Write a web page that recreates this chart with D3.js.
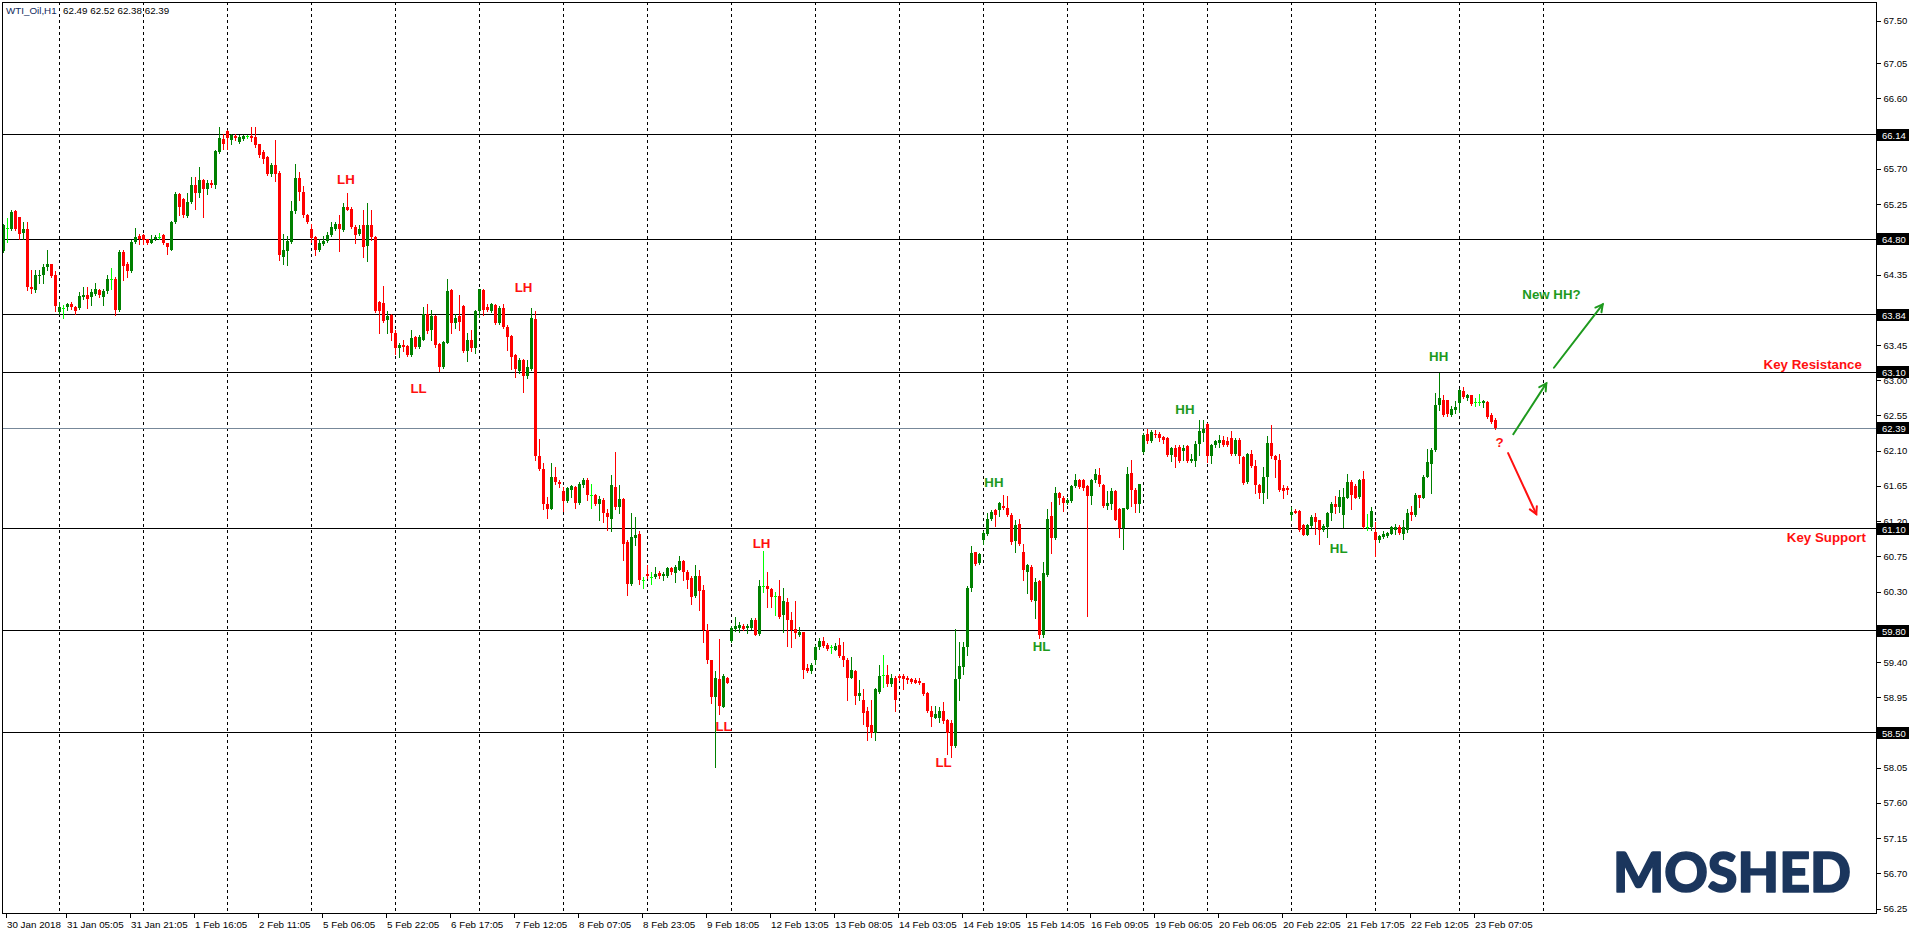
<!DOCTYPE html>
<html><head><meta charset="utf-8">
<script src="https://cdn.jsdelivr.net/npm/d3@7"></script>
<style>body{margin:0;background:#fff;overflow:hidden}svg{display:block}</style>
</head><body>
<svg id="chart" width="1916" height="934"></svg>
<script>
// ---------- DATA (WTI_Oil, H1) ----------
const opens = [
64.65,64.94,64.93,65.16,65.08,64.88,64.93,64.19,64.15,64.33,
64.34,64.45,64.48,64.34,63.87,63.92,63.93,63.97,63.94,63.92,
64.06,64.09,64.06,64.10,64.15,64.07,64.14,64.29,64.30,63.90,
64.64,64.49,64.39,64.77,64.84,64.85,64.80,64.76,64.80,64.83,
64.85,64.76,64.67,65.02,65.38,65.32,65.10,65.28,65.49,65.39,
65.56,65.44,65.52,65.50,65.92,66.08,66.19,66.07,66.12,66.05,
66.08,66.12,66.12,66.11,66.02,65.92,65.85,65.63,65.75,65.65,
64.58,64.65,64.77,65.16,65.59,65.41,65.11,64.93,64.83,64.66,
64.74,64.78,64.85,64.93,65.00,64.92,65.22,65.19,64.96,64.87,
64.98,64.72,64.98,64.83,64.00,63.99,63.77,63.84,63.60,63.41,
63.45,63.44,63.32,63.55,63.42,63.52,63.85,63.64,63.82,63.46,
63.17,63.48,64.15,63.73,63.82,63.95,63.38,63.51,63.41,63.89,
64.15,63.94,63.89,63.96,63.73,63.92,63.68,63.56,63.32,63.12,
63.26,63.05,63.14,63.78,62.03,61.87,61.42,61.36,61.77,61.70,
61.59,61.46,61.60,61.64,61.43,61.66,61.73,61.53,61.53,61.42,
61.47,61.31,61.23,61.64,61.38,61.48,60.94,60.40,60.98,61.04,
60.45,60.52,60.49,60.49,60.54,60.50,60.50,60.60,60.54,60.58,
60.69,60.55,60.48,60.24,60.50,60.32,59.81,59.42,58.95,59.18,
58.83,59.20,59.67,59.82,59.84,59.86,59.84,59.83,59.94,59.76,
60.37,60.37,60.33,60.25,60.24,60.00,60.17,59.94,59.82,59.74,
59.78,59.32,59.29,59.42,59.59,59.67,59.62,59.59,59.56,59.62,
59.48,59.43,59.20,59.29,58.97,58.92,58.78,58.59,58.50,59.02,
59.23,59.23,59.12,59.19,59.22,59.22,59.20,59.18,59.17,59.16,
59.13,59.01,58.78,58.69,58.69,58.78,58.66,58.62,58.33,59.18,
59.34,59.59,60.35,60.80,60.66,60.96,61.04,61.23,61.34,61.34,
61.40,61.37,61.28,60.95,61.16,60.80,60.55,60.62,60.18,60.44,
59.74,60.51,61.26,60.98,61.56,61.49,61.43,61.46,61.65,61.72,
61.72,61.65,61.52,61.73,61.79,61.66,61.39,61.42,61.59,61.36,
61.11,61.36,61.81,61.60,61.42,62.09,62.31,62.23,62.32,62.31,
62.28,62.26,62.04,62.13,62.15,62.10,62.16,61.97,61.97,62.19,
62.33,62.44,62.03,62.17,62.20,62.24,62.23,62.26,62.06,62.24,
62.02,61.70,62.06,61.90,61.66,61.56,61.77,62.20,62.03,61.98,
61.63,61.62,61.28,61.33,61.33,61.15,61.02,61.14,61.25,61.21,
61.09,61.12,61.30,61.42,61.38,61.28,61.50,61.70,61.65,61.51,
61.74,61.13,61.12,61.06,60.96,61.00,61.01,61.04,61.09,61.12,
61.03,61.09,61.32,61.28,61.53,61.50,61.77,61.93,62.11,62.68,
62.75,62.75,62.55,62.62,62.71,62.86,62.77,62.81,62.72,62.72,
62.71,62.72,62.55,62.49];
const highs = [
65.00,65.07,65.17,65.17,65.09,65.02,65.02,64.41,64.41,64.41,
64.49,64.66,64.49,64.39,64.00,63.96,63.99,64.00,63.95,64.13,
64.19,64.19,64.17,64.24,64.17,64.17,64.34,64.43,64.32,64.66,
64.66,64.51,64.79,64.94,64.87,64.87,64.81,64.85,64.85,64.88,
64.87,64.76,65.04,65.41,65.39,65.33,65.39,65.60,65.60,65.73,
65.57,65.56,65.56,65.94,66.23,66.15,66.20,66.15,66.15,66.13,
66.14,66.14,66.24,66.24,66.02,65.94,65.86,65.78,66.07,65.68,
64.87,64.84,65.29,65.76,65.66,65.48,65.13,65.00,64.84,64.81,
64.84,64.90,65.02,65.02,65.11,65.26,65.39,65.22,64.98,64.98,
65.17,65.26,65.17,64.84,64.01,64.20,63.89,63.85,63.64,63.47,
63.51,63.45,63.64,63.56,63.58,63.94,63.97,63.90,63.83,63.47,
63.50,64.29,64.17,63.85,64.09,63.96,63.60,63.64,63.90,64.17,
64.16,63.97,63.99,63.97,63.95,63.97,63.70,63.58,63.34,63.28,
63.27,63.26,63.92,63.89,62.25,61.94,61.51,61.94,61.89,61.72,
61.64,61.64,61.66,61.65,61.70,61.75,61.75,61.67,61.55,61.52,
61.49,61.35,61.79,62.09,61.66,61.49,60.96,61.31,61.25,61.08,
60.49,60.64,60.55,60.62,60.56,60.55,60.62,60.62,60.64,60.75,
60.70,60.57,60.50,60.64,60.58,60.38,59.88,59.43,59.29,59.70,
59.25,59.21,59.86,59.97,59.91,59.89,59.89,59.96,59.96,60.45,
60.82,60.55,60.35,60.30,60.45,60.35,60.22,60.04,60.18,59.85,
59.79,59.38,59.39,59.62,59.71,59.72,59.64,59.62,59.64,59.71,
59.66,59.45,59.46,59.30,59.17,59.05,58.83,58.92,59.07,59.36,
59.49,59.36,59.25,59.22,59.25,59.25,59.22,59.20,59.19,59.19,
59.13,59.02,58.84,58.84,58.83,58.89,58.67,58.66,59.82,59.66,
59.65,60.37,60.88,60.81,60.79,61.08,61.30,61.34,61.35,61.45,
61.53,61.52,61.30,61.22,61.23,60.91,60.65,60.64,60.47,60.45,
60.68,61.35,61.45,61.64,61.57,61.52,61.49,61.66,61.80,61.74,
61.74,61.66,61.74,61.87,61.88,61.67,61.59,61.62,61.60,61.37,
61.37,61.89,61.98,61.62,61.68,62.33,62.38,62.36,62.37,62.34,
62.29,62.27,62.15,62.17,62.17,62.17,62.17,62.06,62.23,62.49,
62.49,62.45,62.18,62.24,62.30,62.29,62.27,62.35,62.26,62.26,
62.03,62.07,62.11,61.98,61.67,61.89,62.29,62.43,62.04,62.06,
61.66,61.65,61.38,61.36,61.34,61.16,61.16,61.28,61.31,61.22,
61.17,61.32,61.45,61.52,61.60,61.62,61.80,61.72,61.67,61.74,
61.84,61.29,61.38,61.19,61.02,61.08,61.06,61.14,61.16,61.15,
61.22,61.35,61.39,61.56,61.54,61.79,62.12,62.13,62.84,63.09,
62.81,62.75,62.67,62.74,62.89,62.91,62.82,62.81,62.77,62.82,
62.75,62.74,62.58,62.52];
const lows = [
64.64,64.77,64.92,64.92,64.81,64.81,64.15,64.11,64.13,64.24,
64.24,64.41,64.32,63.89,63.85,63.80,63.90,63.91,63.85,63.91,
64.04,63.92,63.96,64.09,64.07,63.96,64.12,64.17,63.83,63.89,
64.28,64.32,64.38,64.75,64.74,64.74,64.74,64.75,64.79,64.80,
64.74,64.61,64.66,65.01,65.11,65.08,65.08,65.26,65.19,65.34,
65.08,65.38,65.47,65.46,65.90,65.96,65.96,66.02,66.07,66.03,
66.07,66.10,66.06,65.98,65.85,65.77,65.62,65.61,65.55,64.54,
64.49,64.47,64.75,65.14,65.30,65.09,65.01,64.77,64.60,64.65,
64.73,64.77,64.84,64.92,64.65,64.91,65.17,64.95,64.75,64.86,
64.57,64.53,64.79,63.87,63.60,63.75,63.60,63.52,63.34,63.30,
63.38,63.31,63.31,63.41,63.41,63.51,63.60,63.51,63.43,63.12,
63.16,63.47,63.61,63.67,63.64,63.36,63.25,63.38,63.35,63.81,
63.83,63.89,63.87,63.72,63.72,63.67,63.39,63.15,63.04,63.09,
62.85,63.03,63.13,61.98,61.85,61.36,61.24,61.35,61.68,61.64,
61.33,61.45,61.51,61.37,61.42,61.64,61.47,61.37,61.41,61.22,
61.19,61.09,61.08,61.36,61.30,60.70,60.26,60.38,60.90,60.40,
60.35,60.47,60.40,60.48,60.48,60.45,60.49,60.53,60.42,60.57,
60.45,60.34,60.14,60.23,60.07,59.66,59.39,58.88,58.06,58.74,
58.82,59.13,59.65,59.80,59.79,59.81,59.77,59.82,59.74,59.74,
60.30,60.10,60.10,60.00,59.96,59.79,59.60,59.59,59.71,59.73,
59.20,59.27,59.26,59.38,59.57,59.59,59.56,59.52,59.55,59.47,
59.35,58.91,59.19,58.87,58.91,58.61,58.40,58.44,58.41,59.01,
59.08,59.10,59.10,58.78,59.17,59.05,59.13,59.13,59.13,59.12,
58.98,58.76,58.58,58.68,58.64,58.62,58.23,58.19,58.31,58.92,
59.25,59.49,60.31,60.64,60.65,60.91,61.02,61.22,61.14,61.26,
61.35,61.26,60.91,60.81,60.89,60.45,60.28,60.18,59.96,59.71,
59.72,60.50,60.79,60.97,61.42,61.33,61.42,61.45,61.64,61.62,
61.60,59.99,61.42,61.70,61.65,61.38,61.36,61.35,61.21,61.00,
60.85,61.35,61.39,61.32,61.32,62.07,62.20,62.21,62.28,62.23,
62.20,62.03,61.97,61.89,61.96,61.98,61.96,61.96,61.90,62.04,
62.23,61.95,61.94,62.15,62.15,62.16,62.16,62.04,62.04,61.94,
61.67,61.69,61.89,61.56,61.49,61.43,61.49,62.01,61.76,61.59,
61.50,61.55,61.21,61.30,61.08,61.02,61.02,61.13,61.03,60.91,
61.08,61.00,61.22,61.30,61.32,61.12,61.49,61.36,61.49,61.50,
61.11,61.09,61.09,60.75,60.94,60.99,61.00,61.03,61.04,61.03,
60.97,61.06,61.21,61.26,61.38,61.49,61.76,61.56,62.10,62.62,
62.54,62.54,62.54,62.58,62.60,62.77,62.75,62.69,62.67,62.69,
62.66,62.52,62.45,62.38];
const closes = [
64.99,64.94,65.15,64.93,64.87,64.93,64.19,64.16,64.34,64.35,
64.45,64.48,64.33,63.95,63.93,63.92,63.97,63.94,63.89,64.08,
64.09,64.04,64.13,64.17,64.09,64.14,64.30,64.29,63.90,64.64,
64.46,64.39,64.77,64.83,64.80,64.79,64.76,64.80,64.83,64.83,
64.76,64.70,65.02,65.38,65.21,65.11,65.28,65.49,65.39,65.56,
65.44,65.52,65.49,65.93,66.10,66.02,66.09,66.14,66.09,66.11,
66.12,66.12,66.10,66.00,65.88,65.83,65.63,65.75,65.63,64.60,
64.66,64.78,65.16,65.59,65.41,65.11,65.02,64.82,64.66,64.75,
64.78,64.85,64.96,65.00,64.93,65.22,65.18,64.96,64.85,64.93,
64.70,64.98,64.83,63.89,63.89,63.76,63.82,63.60,63.41,63.45,
63.42,63.32,63.54,63.43,63.55,63.85,63.63,63.82,63.45,63.17,
63.49,64.14,63.73,63.80,63.75,63.38,63.51,63.41,63.89,64.16,
63.90,63.90,63.97,63.73,63.92,63.68,63.55,63.30,63.14,63.26,
63.06,63.17,63.79,62.03,61.87,61.42,61.35,61.77,61.70,61.68,
61.46,61.62,61.65,61.43,61.68,61.73,61.53,61.53,61.42,61.48,
61.31,61.25,61.66,61.38,61.48,60.91,60.40,61.00,61.02,60.45,
60.45,60.50,60.49,60.53,60.50,60.52,60.60,60.55,60.62,60.69,
60.55,60.45,60.23,60.50,60.31,59.81,59.42,58.95,59.20,58.84,
59.22,59.13,59.84,59.86,59.87,59.82,59.86,59.94,59.74,60.37,
60.37,60.33,60.23,60.25,59.98,60.18,59.94,59.81,59.77,59.79,
59.30,59.29,59.36,59.59,59.67,59.60,59.57,59.59,59.60,59.48,
59.42,59.20,59.30,58.97,59.01,58.75,58.57,58.50,59.06,59.22,
59.23,59.12,59.19,58.91,59.20,59.18,59.17,59.15,59.13,59.13,
58.99,58.78,58.70,58.74,58.78,58.65,58.50,58.33,59.18,59.35,
59.59,60.35,60.79,60.65,60.78,61.05,61.23,61.32,61.28,61.43,
61.37,61.28,60.94,61.15,60.91,60.57,60.64,60.19,60.42,59.74,
60.54,61.23,60.98,61.56,61.49,61.43,61.47,61.65,61.72,61.64,
61.63,61.52,61.73,61.80,61.67,61.39,61.43,61.59,61.22,61.11,
61.37,61.80,61.60,61.42,61.67,62.30,62.23,62.34,62.30,62.26,
62.24,62.04,62.14,62.02,61.97,62.14,61.97,62.00,62.19,62.35,
62.38,62.03,62.17,62.23,62.24,62.17,62.17,62.06,62.24,62.03,
61.69,62.06,61.90,61.66,61.56,61.77,62.20,62.03,61.98,61.60,
61.59,61.60,61.32,61.30,61.09,61.02,61.15,61.25,61.19,61.09,
61.14,61.30,61.42,61.38,61.51,61.51,61.70,61.53,61.50,61.73,
61.12,61.13,61.33,60.96,61.01,61.03,61.05,61.12,61.12,61.05,
61.13,61.31,61.28,61.53,61.50,61.77,61.96,62.11,62.68,62.77,
62.55,62.57,62.63,62.66,62.87,62.78,62.81,62.70,62.72,62.72,
62.74,62.53,62.47,62.39];

const priceTicks = [67.50,67.05,66.60,66.15,65.70,65.25,64.80,64.35,63.90,63.45,63.00,62.55,62.10,
  61.65,61.20,60.75,60.30,59.85,59.40,58.95,58.50,58.05,57.60,57.15,56.70,56.25];
const levelPrices = [66.14,64.80,63.84,63.10,61.10,59.80,58.50];
const bidPrice = 62.39;
const timeTickBars = [0,15,31,47,63,79,95,111,127,143,159,175,191,207,223,239,255,271,287,303,319,335,351,367];
const timeTickLabels = ["30 Jan 2018","31 Jan 05:05","31 Jan 21:05","1 Feb 16:05","2 Feb 11:05","5 Feb 06:05",
  "5 Feb 22:05","6 Feb 17:05","7 Feb 12:05","8 Feb 07:05","8 Feb 23:05","9 Feb 18:05","12 Feb 13:05",
  "13 Feb 08:05","14 Feb 03:05","14 Feb 19:05","15 Feb 14:05","16 Feb 09:05","19 Feb 06:05","20 Feb 06:05",
  "20 Feb 22:05","21 Feb 17:05","22 Feb 12:05","23 Feb 07:05"];
const daySeparatorBars = [14,35,56,77,98,119,140,161,182,203,224,245,266,285,301,322,343,364,385];

// annotations placed in (bar index, price) space
const swingLabels = [
  {t:"LH",i:85.6,p:65.56,c:"red"},{t:"LH",i:130.0,p:64.19,c:"red"},{t:"LL",i:103.75,p:62.90,c:"red"},
  {t:"LH",i:189.5,p:60.92,c:"red"},{t:"LL",i:180.0,p:58.58,c:"red"},{t:"LL",i:235.0,p:58.12,c:"red"},
  {t:"HH",i:247.6,p:61.69,c:"green"},{t:"HL",i:259.5,p:59.60,c:"green"},{t:"HH",i:295.35,p:62.63,c:"green"},
  {t:"HL",i:333.8,p:60.85,c:"green"},{t:"HH",i:358.8,p:63.30,c:"green"},{t:"?",i:374.0,p:62.205,c:"red"},
  {t:"New HH?",i:387.0,p:64.096,c:"green"}];
const levelLabels = [{t:"Key Resistance",i:464.6,p:63.20,c:"red"},{t:"Key Support",i:465.6,p:60.995,c:"red"}];
const arrowPaths = [
  {i1:377.45,p1:62.31,i2:385.7,p2:62.96,c:"green"},
  {i1:387.6,p1:63.16,i2:399.8,p2:63.97,c:"green"},
  {i1:376.15,p1:62.07,i2:383.2,p2:61.29,c:"red"}];

// ---------- DRAW ----------
const COLORS = {up:"#008000", down:"#ff0000", doji:"#00ff00", red:"#ff1010", green:"#1e9a1e"};
const svg = d3.select("#chart");
const P = {left:2, top:2, right:1876, bottom:913};
const x = d3.scaleLinear().domain([0,100]).range([3.5,403.5]);
const y = d3.scaleLinear().domain([58.50,66.14]).range([732.5,134.5]);
const FONT = "'Liberation Sans', Arial, sans-serif";

svg.append("rect").attr("width",1916).attr("height",934).attr("fill","#fff");
svg.append("defs").append("clipPath").attr("id","plotclip").append("rect")
  .attr("x",P.left+1).attr("y",P.top+1).attr("width",P.right-P.left-1).attr("height",P.bottom-P.top-1);
const plot = svg.append("g").attr("clip-path","url(#plotclip)");

// day separators (dashed)
plot.append("g").selectAll("line").data(daySeparatorBars).join("line")
  .attr("x1",d=>x(d)).attr("x2",d=>x(d)).attr("y1",P.top).attr("y2",P.bottom)
  .attr("stroke","#000").attr("stroke-width",1).attr("stroke-dasharray","3,3")
  .attr("shape-rendering","crispEdges");

// horizontal levels
const snap = v => Math.round(v) + 0.5;
plot.append("g").selectAll("line").data(levelPrices).join("line")
  .attr("x1",P.left).attr("x2",P.right).attr("y1",d=>snap(y(d)-0.5)).attr("y2",d=>snap(y(d)-0.5))
  .attr("stroke","#000").attr("stroke-width",1).attr("shape-rendering","crispEdges");
plot.append("line").attr("x1",P.left).attr("x2",P.right)
  .attr("y1",snap(y(bidPrice)-0.5)).attr("y2",snap(y(bidPrice)-0.5))
  .attr("stroke","#778899").attr("stroke-width",1).attr("shape-rendering","crispEdges");

// candles
const bars = opens.map((o,i)=>{
  const c = closes[i];
  return {i,o,c,h:Math.max(highs[i],o,c),l:Math.min(lows[i],o,c)};
});
const colorOf = d => d.c>d.o ? COLORS.up : (d.c<d.o ? COLORS.down : COLORS.doji);
const cg = plot.append("g").attr("shape-rendering","crispEdges");
cg.selectAll("line").data(bars).join("line")
  .attr("x1",d=>x(d.i)).attr("x2",d=>x(d.i))
  .attr("y1",d=>Math.round(y(d.h))).attr("y2",d=>Math.round(y(d.l))+1)
  .attr("stroke",colorOf).attr("stroke-width",1);
cg.selectAll("rect").data(bars).join("rect")
  .attr("x",d=>x(d.i)-1.5).attr("width",3)
  .attr("y",d=>Math.round(y(Math.max(d.o,d.c))))
  .attr("height",d=>Math.max(1,Math.round(y(Math.min(d.o,d.c)))-Math.round(y(Math.max(d.o,d.c)))))
  .attr("fill",colorOf);

// swing labels
plot.append("g").selectAll("text").data(swingLabels).join("text")
  .attr("x",d=>x(d.i)).attr("y",d=>y(d.p)).attr("text-anchor","middle").attr("dominant-baseline","central")
  .attr("font-family",FONT).attr("font-weight","bold").attr("font-size","13.3px")
  .attr("fill",d=>COLORS[d.c]).text(d=>d.t);
plot.append("g").selectAll("text").data(levelLabels).join("text")
  .attr("x",d=>x(d.i)).attr("y",d=>y(d.p)).attr("text-anchor","end").attr("dominant-baseline","central")
  .attr("font-family",FONT).attr("font-weight","bold").attr("font-size","13.3px")
  .attr("fill",d=>COLORS[d.c]).text(d=>d.t);

// arrows
const ag = plot.append("g").attr("stroke-linecap","round");
arrowPaths.forEach(a=>{
  const X1=x(a.i1),Y1=y(a.p1),X2=x(a.i2),Y2=y(a.p2);
  const ang=Math.atan2(Y2-Y1,X2-X1), L=8, s=0.5;
  const col=COLORS[a.c];
  ag.append("line").attr("x1",X1).attr("y1",Y1).attr("x2",X2).attr("y2",Y2).attr("stroke",col).attr("stroke-width",2);
  ag.append("path").attr("d",`M${X2-L*Math.cos(ang-s)},${Y2-L*Math.sin(ang-s)}L${X2},${Y2}L${X2-L*Math.cos(ang+s)},${Y2-L*Math.sin(ang+s)}`)
    .attr("fill","none").attr("stroke",col).attr("stroke-width",2);
});

// logo
svg.append("text").attr("x",1613).attr("y",892).attr("font-family","Lato, 'Open Sans', sans-serif")
  .attr("font-weight",900).attr("font-size","56px").attr("fill","#1b365d")
  .attr("stroke","#1b365d").attr("stroke-width",1.6).attr("stroke-linejoin","round")
  .attr("textLength",238).attr("lengthAdjust","spacingAndGlyphs").text("MOSHED");

// frame
svg.append("rect").attr("x",P.left+0.5).attr("y",P.top+0.5).attr("width",P.right-P.left).attr("height",P.bottom-P.top)
  .attr("fill","none").attr("stroke","#000").attr("stroke-width",1).attr("shape-rendering","crispEdges");

// right price axis (labels hidden behind a level box are left blank, as in the source)
const boxes = levelPrices.concat([bidPrice]);
const coveredByBox = v => boxes.some(b => Math.abs(y(b)-y(v)) < 6);
const yAxis = d3.axisRight(y).tickValues(priceTicks).tickSize(4).tickPadding(3)
  .tickFormat(v => coveredByBox(v) ? "" : d3.format(".2f")(v));
const ya = svg.append("g").attr("transform",`translate(${P.right+0.5},0)`).call(yAxis);
ya.select(".domain").remove();
ya.selectAll("line").attr("stroke","#000").attr("shape-rendering","crispEdges");
ya.selectAll("text").attr("font-family",FONT).attr("font-size","9.5px").attr("fill","#000");
ya.selectAll(".tick").filter(d=>d===67.5).attr("transform",`translate(0,${y(67.5)-7})`);

// price boxes
const bg = svg.append("g");
bg.selectAll("rect").data(boxes).join("rect")
  .attr("x",P.right+1).attr("y",d=>Math.round(y(d))-6).attr("width",32).attr("height",12).attr("fill","#000");
bg.selectAll("text").data(boxes).join("text")
  .attr("x",P.right+6).attr("y",d=>Math.round(y(d))).attr("dominant-baseline","central")
  .attr("font-family",FONT).attr("font-size","9.5px").attr("fill","#fff").text(d=>d3.format(".2f")(d));

// bottom time axis
const xAxis = d3.axisBottom(x).tickValues(timeTickBars.map(b=>b+0.5)).tickSize(4).tickPadding(4)
  .tickFormat((d,k)=>timeTickLabels[k]);
const xa = svg.append("g").attr("transform",`translate(0,${P.bottom+0.5})`).call(xAxis);
xa.select(".domain").remove();
xa.selectAll("line").attr("stroke","#000").attr("shape-rendering","crispEdges");
xa.selectAll("text").attr("text-anchor","start").attr("dx","1px")
  .attr("font-family",FONT).attr("font-size","9.8px").attr("fill","#000");

// header
svg.append("text").attr("x",6).attr("y",14).attr("font-family",FONT).attr("font-size","9.8px").attr("fill","#102a5c").text("WTI_Oil,H1");
svg.append("text").attr("x",63).attr("y",14).attr("font-family",FONT).attr("font-size","9.8px").attr("fill","#000")
  .text(`${opens[opens.length-1].toFixed(2)} ${highs[highs.length-1].toFixed(2)} ${lows[lows.length-1].toFixed(2)} ${closes[closes.length-1].toFixed(2)}`);
</script>
</body></html>
